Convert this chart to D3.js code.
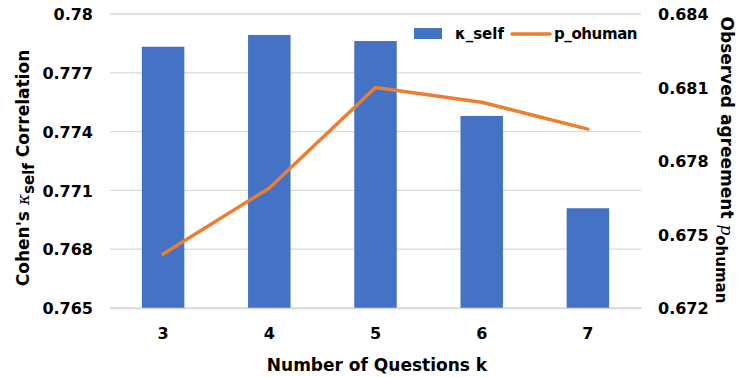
<!DOCTYPE html>
<html>
<head>
<meta charset="utf-8">
<script src="https://cdn.jsdelivr.net/npm/d3@7"></script>
<style>
  html, body { margin: 0; padding: 0; background: #fff; }
  svg text { font-family: "Comic Sans MS", "DejaVu Sans", sans-serif; font-weight: bold; fill: #000; }
</style>
</head>
<body>
<svg id="chart" width="740" height="377"></svg>
<script>
const categories = ["3", "4", "5", "6", "7"];
const kappaSelf = [0.77833, 0.77893, 0.77862, 0.7748, 0.77009];
const pOhuman = [0.6742, 0.6769, 0.6810, 0.6804, 0.6793];
const leftTicks = [0.765, 0.768, 0.771, 0.774, 0.777, 0.78];
const rightTicks = [0.672, 0.675, 0.678, 0.681, 0.684];
const seriesNames = ["κ_self", "p_ohuman"];

const svg = d3.select("#chart");
const m = { left: 110, right: 641, top: 14, bottom: 308 };

const x = d3.scaleBand().domain(categories).range([m.left, m.right]).paddingInner(0.6).paddingOuter(0.3);
const xc = d => x(d) + x.bandwidth() / 2;
const yL = d3.scaleLinear().domain([0.765, 0.78]).range([m.bottom, m.top]);
const yR = d3.scaleLinear().domain([0.672, 0.684]).range([m.bottom, m.top]);

// gridlines
svg.append("g").selectAll("line").data(leftTicks).join("line")
  .attr("x1", m.left).attr("x2", m.right)
  .attr("y1", d => yL(d)).attr("y2", d => yL(d))
  .attr("stroke", "#d9d9d9").attr("stroke-width", 1.3);

// bars
svg.append("g").selectAll("rect").data(categories).join("rect")
  .attr("x", d => x(d)).attr("width", x.bandwidth())
  .attr("y", (d, i) => yL(kappaSelf[i]))
  .attr("height", (d, i) => yL(0.765) - yL(kappaSelf[i]))
  .attr("fill", "#4472C4");

// line
const line = d3.line().x((d, i) => xc(categories[i])).y(d => yR(d));
svg.append("path").datum(pOhuman).attr("d", line)
  .attr("fill", "none").attr("stroke", "#ED7D31").attr("stroke-width", 3.5)
  .attr("stroke-linejoin", "round").attr("stroke-linecap", "round");

// axes
const axL = d3.axisLeft(yL).tickValues(leftTicks).tickSize(0).tickPadding(17).tickFormat(d3.format(""));
const gL = svg.append("g").attr("transform", `translate(${m.left},0)`).call(axL);
gL.select(".domain").remove();
gL.selectAll("text").attr("font-size", 16).attr("dy", "0.35em");

const axR = d3.axisRight(yR).tickValues(rightTicks).tickSize(0).tickPadding(17).tickFormat(d3.format(""));
const gR = svg.append("g").attr("transform", `translate(${m.right},0)`).call(axR);
gR.select(".domain").remove();
gR.selectAll("text").attr("font-size", 16).attr("dy", "0.35em");

const axB = d3.axisBottom(x).tickSize(0).tickPadding(20);
const gB = svg.append("g").attr("transform", `translate(0,${m.bottom})`).call(axB);
gB.select(".domain").attr("stroke", "#d9d9d9").attr("stroke-width", 1.3);
gB.selectAll("text").attr("font-size", 16);

// axis titles
svg.append("text").attr("x", 377).attr("y", 371).attr("text-anchor", "middle")
  .attr("font-size", 17).text("Number of Questions k");

const tl = svg.append("text").attr("transform", "translate(29,168) rotate(-90)")
  .attr("text-anchor", "middle").attr("font-size", 17);
tl.append("tspan").text("Cohen's ");
tl.append("tspan").attr("font-style", "italic").attr("font-weight", "normal").attr("font-family", "DejaVu Serif").text("κ");
tl.append("tspan").attr("dy", 5).attr("font-size", 15).text("self");
tl.append("tspan").attr("dy", -5).text(" Correlation");

const tr = svg.append("text").attr("transform", "translate(721,160) rotate(90)")
  .attr("text-anchor", "middle").attr("font-size", 17);
tr.append("tspan").text("Observed agreement ");
tr.append("tspan").attr("font-style", "italic").attr("font-weight", "normal").attr("font-family", "DejaVu Serif").text("p");
tr.append("tspan").attr("dy", 5).attr("font-size", 15).text("ohuman");

// legend
const lg = svg.append("g");
lg.append("rect").attr("x", 414).attr("y", 28).attr("width", 28).attr("height", 11).attr("fill", "#4472C4");
lg.append("text").attr("x", 455).attr("y", 39).attr("font-size", 15).text(seriesNames[0]);
lg.append("line").attr("x1", 512).attr("x2", 550).attr("y1", 34).attr("y2", 34)
  .attr("stroke", "#ED7D31").attr("stroke-width", 3.5).attr("stroke-linecap", "round");
lg.append("text").attr("x", 554).attr("y", 39).attr("font-size", 15).attr("letter-spacing", -0.4).text(seriesNames[1]);
</script>
</body>
</html>
